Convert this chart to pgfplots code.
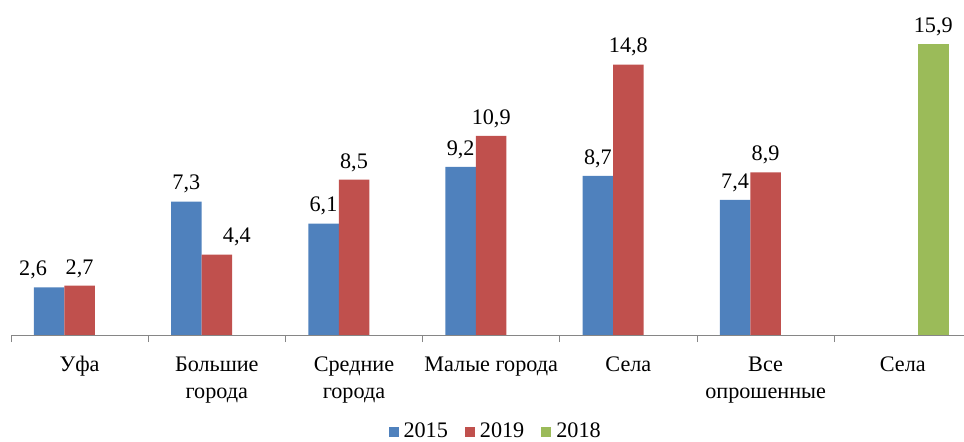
\documentclass[border=0pt]{standalone}
\usepackage{pgfplots}
\pgfplotsset{compat=1.18}
\usepackage{fontspec}
\setmainfont{Liberation Serif}
\definecolor{cblue}{HTML}{4F81BD}
\definecolor{cred}{HTML}{C0504D}
\definecolor{cgreen}{HTML}{9BBB59}
\definecolor{axgray}{HTML}{868686}
\newcommand\f{\fontsize{22.2bp}{27bp}\selectfont}
\begin{document}
\begin{tikzpicture}
\useasboundingbox (0,0) rectangle (964bp,442bp);
\begin{axis}[
  at={(11bp,107bp)}, anchor=south west,
  scale only axis, width=953bp, height=335bp,
  xmin=-0.5, xmax=6.446, ymin=0, ymax=18.33,
  axis x line*=bottom, axis y line=none,
  x axis line style={-, draw=axgray, line width=1bp},
  xtick={0,...,6},
  xticklabels={{\strut Уфа},{\strut Большие\\города},{\strut Средние\\города},{\strut Малые города},{\strut Села},{\strut Все\\опрошенные},{\strut Села}},
  major tick length=0pt,
  minor xtick={-0.5,0.5,...,5.5},
  minor tick length=7bp,
  xtick align=outside,
  tick style={draw=axgray, line width=1bp},
  xticklabel style={font=\f, align=center, anchor=north, inner sep=0pt, yshift=-17bp},
  ybar, bar width=0.2223,
  nodes near coords,
  /pgf/number format/fixed,
  /pgf/number format/fixed zerofill,
  /pgf/number format/precision=1,
  /pgf/number format/use comma,
  /pgf/number format/assume math mode=true,
  visualization depends on={value \thisrow{s}\as\lblshift},
  every node near coord/.append style={font=\f, inner sep=0pt, anchor=south, yshift=8bp, xshift=\lblshift bp, text=black},
  legend columns=3,
  legend style={draw=none, fill=none, at={(0.508,-0.287)}, anchor=center, font=\f, inner sep=0pt,
    nodes={inner sep=1bp},
    /tikz/every odd column/.append style={column sep=4bp},
    /tikz/every even column/.append style={column sep=16bp}},
  legend image code/.code={\fill[#1] (0bp,-5.5bp) rectangle (10bp,4.5bp);},
]
\addplot[fill=cblue, draw=none, bar shift=-0.2223] table {
x y s
0 2.6 -16
1 7.3 0
2 6.1 0
3 9.2 0
4 8.7 0
5 7.4 0
};
\addplot[fill=cred, draw=none, bar shift=0] table {
x y s
0 2.7 0
1 4.4 20
2 8.5 0
3 10.9 0
4 14.8 0
5 8.9 0
};
\addplot[fill=cgreen, draw=none, bar shift=0.2223] table {
x y s
6 15.9 0
};
\legend{2015,2019,2018}
\end{axis}
\end{tikzpicture}
\end{document}
